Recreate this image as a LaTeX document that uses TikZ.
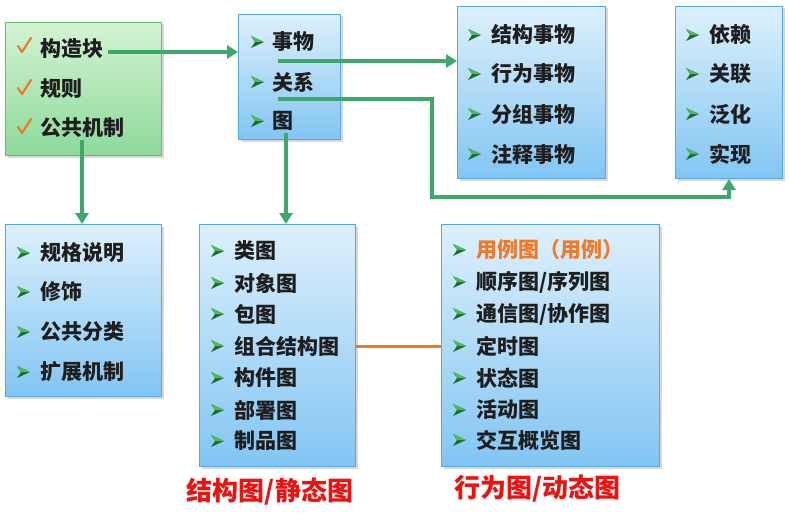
\documentclass[tikz,border=0pt]{standalone}
\usepackage{fontspec}
\newfontfamily\cjk{Noto Sans CJK SC}
\usetikzlibrary{arrows.meta,shadows,calc}
\definecolor{boxtop}{HTML}{DDF0FC}
\definecolor{boxbot}{HTML}{82C5F3}
\definecolor{boxline}{HTML}{55A9E2}
\definecolor{gtop}{HTML}{D3F4D3}
\definecolor{gbot}{HTML}{8DD99B}
\definecolor{gline}{HTML}{62BE72}
\definecolor{conncol}{HTML}{3CA86C}
\definecolor{bdark}{HTML}{17702A}
\definecolor{blight}{HTML}{52B85A}
\definecolor{chk}{HTML}{F07A22}
\definecolor{ucase}{HTML}{F07A28}
\definecolor{txt}{HTML}{1E1E1E}
\definecolor{redlab}{HTML}{F01010}
\newcommand{\bul}[2]{%
  \fill[bdark] (#1,#2) ++(0,-6) -- ++(13,6) -- ++(-13,6) -- ++(4,-6) -- cycle;
  \fill[blight] (#1,#2) ++(0,-6) -- ++(13,6) -- ++(-9,0) -- cycle;}
\newcommand{\chkmark}[2]{%
  \draw[chk, line width=2.2pt, line cap=round, line join=round] (#1,#2) ++(0,0) -- ++(4,6) -- ++(9,-14);}
\begin{document}
\begin{tikzpicture}[x=1pt,y=-1pt,
  bluebox/.style={draw=boxline, line width=1pt, top color=boxtop, bottom color=boxbot,
     drop shadow={shadow xshift=2pt, shadow yshift=-2pt, opacity=0.25, fill=black!60},
     anchor=north west, inner sep=0pt},
  greenbox/.style={draw=gline, line width=1pt, top color=gtop, bottom color=gbot,
     drop shadow={shadow xshift=2pt, shadow yshift=-2pt, opacity=0.25, fill=black!60},
     anchor=north west, inner sep=0pt},
  item/.style={anchor=west, inner sep=0pt, text=txt, font=\cjk\bfseries\fontsize{21}{21}\selectfont},
  conn/.style={draw=conncol, line width=3.6pt, -{Triangle[length=11pt,width=13pt]}},
  oline/.style={draw=chk, line width=3pt},
  redlabel/.style={inner sep=0pt, text=redlab, font=\cjk\bfseries\fontsize{26}{26}\selectfont}]
\useasboundingbox[fill=white] (0,0) rectangle (789,516);

% boxes
\node[greenbox, minimum width=156pt, minimum height=133pt] (A) at (5,22) {};
\node[bluebox, minimum width=102pt, minimum height=125pt] (B) at (238,14) {};
\node[bluebox, minimum width=148pt, minimum height=172pt] (C) at (457,6) {};
\node[bluebox, minimum width=107pt, minimum height=172pt] (D) at (675,6) {};
\node[bluebox, minimum width=156pt, minimum height=172pt] (E) at (5,224) {};
\node[bluebox, minimum width=156pt, minimum height=242pt] (F) at (199,224) {};
\node[bluebox, minimum width=218pt, minimum height=242pt] (G) at (441,224) {};

% box A
\chkmark{18}{46}\node[item] (a1) at (40,49) {构造块};
\chkmark{18}{88}\node[item] (a2) at (40,89) {规则};
\chkmark{18}{127}\node[item] (a3) at (40,128) {公共机制};
% box B
\bul{251}{42}\node[item] (b1) at (272,42) {事物};
\bul{251}{82}\node[item] (b2) at (272,82) {关系};
\bul{251}{121}\node[item] (b3) at (272,121) {图};
% box C
\bul{468}{35}\node[item] (c1) at (491,35) {结构事物};
\bul{468}{74}\node[item] (c2) at (491,74) {行为事物};
\bul{468}{114}\node[item] (c3) at (491,114) {分组事物};
\bul{468}{154}\node[item] (c4) at (491,154) {注释事物};
% box D
\bul{686}{35}\node[item] (d1) at (709,35) {依赖};
\bul{686}{74}\node[item] (d2) at (709,74) {关联};
\bul{686}{114}\node[item] (d3) at (709,114) {泛化};
\bul{686}{154}\node[item] (d4) at (709,154) {实现};
% box E
\bul{17}{253}\node[item] (e1) at (40,253) {规格说明};
\bul{17}{292}\node[item] (e2) at (40,292) {修饰};
\bul{17}{332}\node[item] (e3) at (40,332) {公共分类};
\bul{17}{372}\node[item] (e4) at (40,372) {扩展机制};
% box F
\bul{211}{251}\node[item] (f1) at (234,251) {类图};
\bul{211}{283}\node[item] (f2) at (234,283) {对象图};
\bul{211}{314}\node[item] (f3) at (234,314) {包图};
\bul{211}{346}\node[item] (f4) at (234,346) {组合结构图};
\bul{211}{378}\node[item] (f5) at (234,378) {构件图};
\bul{211}{410}\node[item] (f6) at (234,410) {部署图};
\bul{211}{441}\node[item] (f7) at (234,441) {制品图};
% box G
\bul{453}{250}\node[item, text=ucase] (g1) at (476,250) {用例图（用例）};
\bul{453}{282}\node[item] (g2) at (476,282) {顺序图/序列图};
\bul{453}{314}\node[item] (g3) at (476,314) {通信图/协作图};
\bul{453}{346}\node[item] (g4) at (476,346) {定时图};
\bul{453}{378}\node[item] (g5) at (476,378) {状态图};
\bul{453}{410}\node[item] (g6) at (476,410) {活动图};
\bul{453}{440}\node[item] (g7) at (476,440) {交互概览图};

% labels
\node[redlabel] (L1) at (270,492) {结构图/静态图};
\node[redlabel] (L2) at (537,489) {行为图/动态图};

% connectors
\coordinate (s1) at (108,52);
\draw[conn] (s1) -- (s1 -| B.west);
\coordinate (s2) at (278,61);
\draw[conn] (s2) -- (s2 -| C.west);
\coordinate (s3) at (278,99);
\coordinate (k1) at (432,197);
\draw[conn] (s3) -| (k1) -| (D.south);
\coordinate (s4) at (286,133);
\draw[conn] (s4) -- (s4 |- F.north);
\coordinate (s5) at (82,140);
\draw[conn] (s5) -- (s5 |- E.north);
\draw[oline] (F.east |- f4) -- (G.west |- f4);
\end{tikzpicture}
\end{document}
